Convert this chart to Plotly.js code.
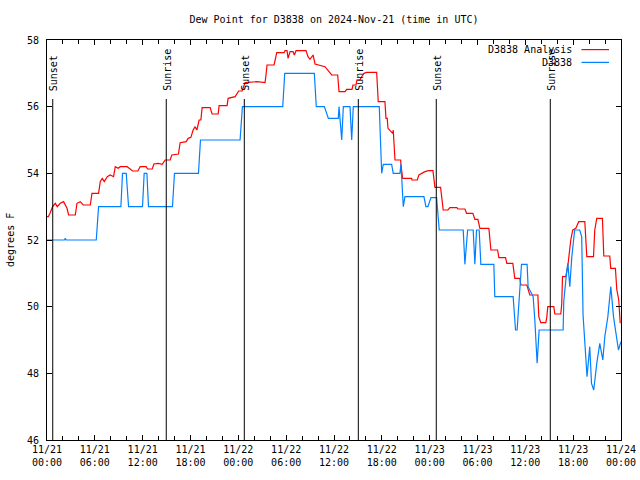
<!DOCTYPE html>
<html>
<head>
<meta charset="utf-8">
<script src="https://cdn.plot.ly/plotly-3.0.1.min.js"></script>
<style>html,body{margin:0;padding:0;background:#fff;}#chart{width:640px;height:480px;}</style>
</head>
<body>
<div id="chart"></div>
<script>
// Hours since 2024-11-21 00:00 UTC
const analysisHours = [0,0.16,0.38,0.70,1.04,1.29,1.67,2.08,2.51,2.71,3.55,3.76,4.17,4.55,5.43,5.64,6.47,6.68,6.93,7.18,7.56,7.93,8.35,8.56,8.93,9.19,10.06,10.73,11.40,11.69,12.44,12.61,13.2,13.41,13.95,14.45,14.82,15.45,15.66,16.49,16.70,17.46,17.71,18.05,18.33,18.58,18.80,19.08,19.30,19.46,20.46,20.71,21.47,21.59,22.59,22.72,23.6,24.04,24.47,24.85,26.35,27.35,27.47,27.60,28.48,28.70,28.82,29.74,29.86,30.11,30.24,30.49,30.86,31.03,31.24,32.49,32.74,32.99,33.37,33.62,34.87,35.71,36.46,36.63,37.38,37.59,38.26,38.38,38.76,38.88,39.26,39.39,39.76,40.10,41.35,41.55,42.39,42.52,42.68,42.77,43.36,43.43,43.65,44.36,44.40,44.61,45.74,45.78,46.44,46.65,47.40,47.87,48.41,48.66,49.37,49.70,50.29,50.54,51.42,51.54,52.42,52.63,53.42,53.67,54.05,54.30,55.43,55.68,56.52,56.68,57.52,57.68,58.43,58.68,59.31,59.44,60.19,60.56,61.57,61.69,61.94,62.57,62.69,62.82,63.57,63.70,64.45,64.57,64.66,65.08,65.33,65.70,65.95,66.33,66.70,67.46,67.71,68.55,68.71,68.96,69.67,69.84,70.59,70.71,71.30,71.47,71.72,71.90];
const analysisValues = [52.7,52.7,52.8,53.0,53.1,53.0,53.1,53.15,52.95,52.75,52.75,53.1,53.15,53.05,53.05,53.4,53.4,53.75,53.85,53.75,53.9,53.95,53.9,54.2,54.15,54.2,54.2,54.07,54.07,54.2,54.2,54.13,54.13,54.28,54.3,54.27,54.4,54.4,54.55,54.58,54.92,54.95,55.05,55.08,55.3,55.4,55.3,55.6,55.6,55.97,55.97,55.78,55.78,56.03,56.03,56.25,56.3,56.47,56.47,56.72,56.75,56.72,56.95,57.25,57.25,57.55,57.62,57.62,57.68,57.68,57.45,57.65,57.65,57.55,57.68,57.68,57.5,57.42,57.55,57.28,57.2,56.95,56.95,56.45,56.45,56.52,56.52,56.65,56.65,56.8,56.8,56.87,57.0,57.03,57.03,56.15,56.15,55.65,55.65,55.35,55.2,55.3,54.4,54.4,54.25,53.85,53.85,53.8,53.8,53.95,54.05,54.08,54.08,53.58,53.58,52.9,52.9,52.97,52.97,52.93,52.93,52.8,52.8,52.62,52.62,52.35,52.35,51.7,51.7,51.47,51.47,51.3,51.3,50.85,50.85,50.65,50.65,50.35,50.35,49.7,49.52,49.52,49.68,50.0,50.0,49.78,49.78,50.1,50.9,50.9,51.22,52.0,52.3,52.35,52.55,52.55,51.5,51.5,52.3,52.65,52.65,51.52,51.52,51.15,51.15,50.52,50.2,49.5];

const stationHours = [0,2.2,2.29,2.4,6.18,6.47,9.27,9.47,9.94,10.23,11.98,12.19,12.53,12.73,15.74,15.99,19.0,19.25,24.22,24.51,29.57,29.82,33.53,33.78,34.79,35.29,36.54,36.63,36.97,37.17,38.01,38.22,38.42,41.68,41.98,42.18,43.23,43.43,44.27,44.40,44.69,44.9,47.28,47.53,47.78,48.16,48.87,49.20,52.21,52.42,52.76,53.46,53.67,53.88,54.21,54.42,56.05,56.17,58.47,58.77,58.97,59.52,60.22,60.35,60.98,61.19,61.48,61.73,64.74,64.82,65.16,65.33,65.58,65.83,66.19,66.82,67.07,67.24,67.74,68.08,68.30,68.58,68.96,69.34,69.72,69.97,70.35,70.72,71.06,71.43,71.68,71.99];
const stationValues = [52.0,52.0,52.05,52.0,52.0,53.0,53.0,54.0,54.0,53.0,53.0,54.0,54.0,53.0,53.0,54.0,54.0,55.0,55.0,56.0,56.0,57.0,57.0,56.0,56.0,55.65,55.65,56.0,55.0,56.0,56.0,55.0,56.0,56.0,54.0,54.27,54.27,54.0,54.0,54.27,53.0,53.3,53.3,53.0,53.0,53.27,53.27,52.3,52.3,51.27,52.3,52.3,51.27,52.3,52.3,51.27,51.27,50.3,50.3,49.3,49.3,51.27,51.27,50.6,50.3,49.6,48.3,49.3,49.3,50.15,51.0,51.3,50.6,51.5,52.3,52.3,52.1,49.75,47.9,48.8,47.7,47.5,48.3,48.9,48.4,49.1,49.7,50.6,49.7,49.1,48.7,48.95];

const sunsetHours = [0.72, 24.75, 48.83];
const sunriseHours = [14.96, 39.05, 63.13];

const seriesNames = ['D3838 Analysis', 'D3838'];
const seriesColors = ['#ff0000', '#0080ff'];

const baseMs = Date.UTC(2024, 10, 21);
function toDate(h) { return new Date(baseMs + h * 3600e3).toISOString().replace('Z', ''); }

const FONT = 'DejaVu Sans Mono, Liberation Mono, monospace';

const traces = [
  {x: analysisHours.map(toDate), y: analysisValues, name: seriesNames[0], type: 'scatter', mode: 'lines',
   line: {color: seriesColors[0], width: 1.2}, showlegend: false, hoverinfo: 'skip'},
  {x: stationHours.map(toDate), y: stationValues, name: seriesNames[1], type: 'scatter', mode: 'lines',
   line: {color: seriesColors[1], width: 1.2}, showlegend: false, hoverinfo: 'skip'}
];

const shapes = [];
const annotations = [];
const events = sunsetHours.map(h => ({h, label: 'Sunset'})).concat(sunriseHours.map(h => ({h, label: 'Sunrise'})));
events.forEach(ev => {
  shapes.push({type: 'line', xref: 'x', yref: 'paper', x0: toDate(ev.h), x1: toDate(ev.h), y0: 0, y1: 0.8525,
    line: {color: '#000', width: 1}});
  annotations.push({xref: 'x', yref: 'paper', x: toDate(ev.h), y: 0.8675, text: ev.label, textangle: -90,
    showarrow: false, xanchor: 'center', yanchor: 'bottom', xshift: 1.5,
    font: {family: FONT, size: 10, color: '#000'}});
});

// legend (gnuplot style: text then line sample)
const legendY = [0.976, 0.944];
seriesNames.forEach((name, i) => {
  annotations.push({xref: 'paper', yref: 'paper', x: 0.9177, y: legendY[i], text: name, showarrow: false,
    xanchor: 'right', yanchor: 'middle', font: {family: FONT, size: 10, color: '#000'}});
  shapes.push({type: 'line', xref: 'paper', yref: 'paper', x0: 0.9311, x1: 0.9791, y0: legendY[i], y1: legendY[i],
    line: {color: seriesColors[i], width: 1.2}});
});

annotations.push({xref: 'paper', yref: 'paper', x: -0.0645, y: 0.5, text: 'degrees F', textangle: -90,
  showarrow: false, xanchor: 'center', yanchor: 'middle', font: {family: FONT, size: 10, color: '#000'}});

const layout = {
  width: 640, height: 480,
  paper_bgcolor: '#fff', plot_bgcolor: '#fff',
  margin: {l: 47, r: 19, t: 40, b: 40},
  title: {text: 'Dew Point for D3838 on 2024-Nov-21 (time in UTC)', font: {family: FONT, size: 10, color: '#000'},
    x: 0.5, xanchor: 'center', xref: 'paper', y: 1 - 19 / 480, yref: 'container', yanchor: 'middle'},
  font: {family: FONT, size: 10, color: '#000'},
  xaxis: {
    type: 'date', range: [toDate(0), toDate(72)],
    tick0: toDate(0), dtick: 6 * 3600e3, tickformat: '%m/%d<br>%H:%M',
    ticks: 'inside', ticklen: 5, tickcolor: '#000', showline: true, linecolor: '#000', linewidth: 1,
    mirror: 'ticks', showgrid: false, zeroline: false,
    minor: {dtick: 2 * 3600e3, ticks: 'inside', ticklen: 4, tickcolor: '#000', showgrid: false},
    tickfont: {family: FONT, size: 10, color: '#000'}
  },
  yaxis: {
    range: [46, 58], dtick: 2, tick0: 46,
    ticks: 'inside', ticklen: 5, tickcolor: '#000', showline: true, linecolor: '#000', linewidth: 1,
    mirror: 'ticks', showgrid: false, zeroline: false, ticklabelstandoff: 5,
    tickfont: {family: FONT, size: 10, color: '#000'}
  },
  shapes: shapes,
  annotations: annotations
};

Plotly.newPlot('chart', traces, layout, {staticPlot: true, displayModeBar: false});
</script>
</body>
</html>
